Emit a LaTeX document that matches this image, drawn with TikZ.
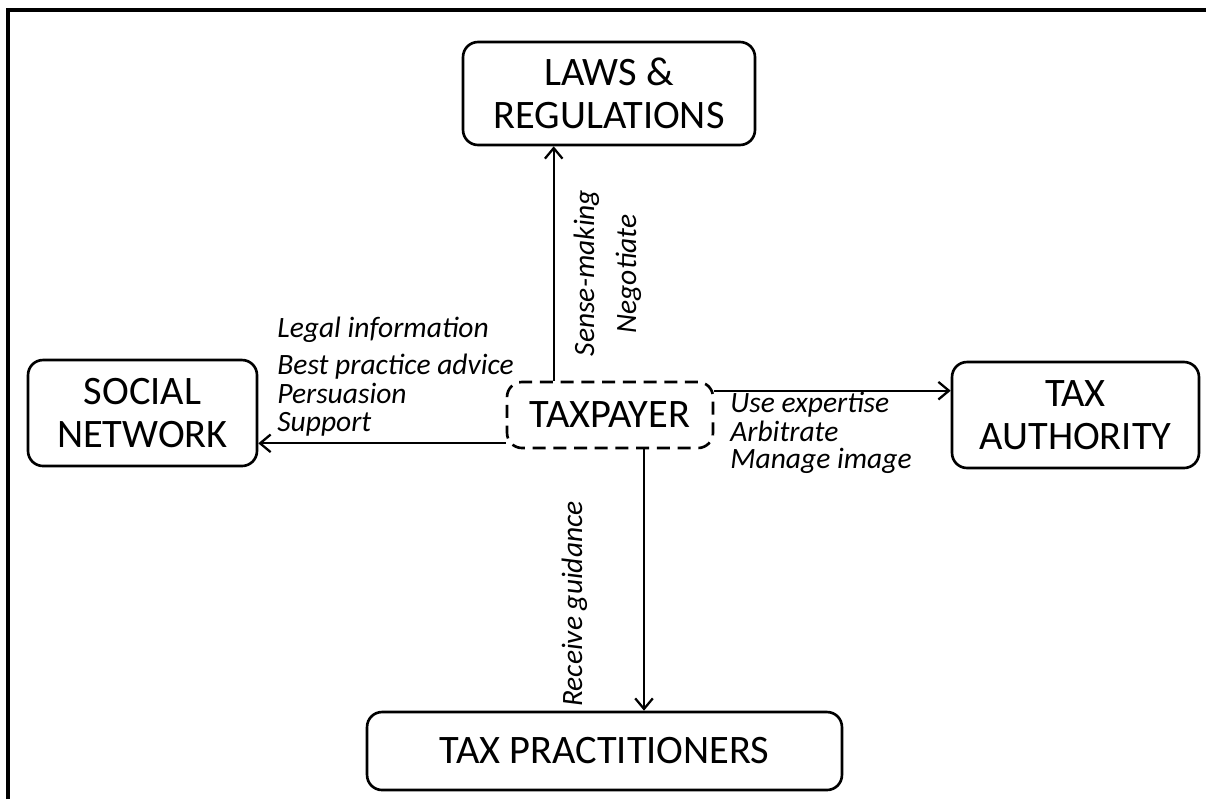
\documentclass[tikz,border=0pt]{standalone}
\usepackage{fontspec}
\setmainfont{Carlito}
\usetikzlibrary{arrows.meta}

\tikzset{
  box/.style={draw, line width=1.5pt, rounded corners=0.3cm, align=center,
    inner sep=0pt, font=\fontsize{23}{24.5}\selectfont},
  dashbox/.style={box, dash pattern=on 7.4pt off 4.4pt},
  lbl/.style={inner sep=0pt, text height=0.7em, text depth=0.22em,
    font=\fontsize{16.8}{19}\selectfont\itshape},
  arr/.style={line width=1.3pt, -{Straight Barb[length=6pt,width=10pt]}}
}

\begin{document}
\begin{tikzpicture}[x=0.02cm, y=-0.02cm]
			\useasboundingbox (0,0) rectangle (1206,799);
			\draw[line width=1.8pt] (8,799) -- (8,10) -- (1206,10);

			\node[box, minimum width=5.84cm, minimum height=2.06cm] (laws) at (609,93.5) {LAWS \&\\REGULATIONS};
			\node[box, minimum width=4.58cm, minimum height=2.12cm] (soc) at (142.5,413) {SOCIAL\\NETWORK};
			\node[box, minimum width=4.94cm, minimum height=2.12cm] (auth) at (1075.5,415) {TAX\\AUTHORITY};
			\node[box, minimum width=9.5cm, minimum height=1.56cm] (prac) at (604.5,751) {TAX PRACTITIONERS};
			\node[dashbox, minimum width=4.12cm, minimum height=1.32cm] (tp) at (610,415) {TAXPAYER};

			\draw[arr] ([shift={(48,0)}]tp.north west) coordinate (up) -- (up |- laws.south);
			\draw[arr] ([shift={(0,-6)}]tp.south west) coordinate (lt) -- (lt -| soc.east);
			\draw[arr] ([shift={(0,10)}]tp.north east) coordinate (rt) -- (rt -| auth.west);
			\draw[arr] ([shift={(34,0)}]tp.south) coordinate (dn) -- (dn |- prac.north);

			% up
			\node[lbl, rotate=90] (sense) at (590,273) {Sense-making};
			\node[lbl, rotate=90] (nego) at (632,274) {Negotiate};
			% left
			\node[lbl, anchor=west] (legal) at (277,333) {Legal information};
			\node[lbl, anchor=west] (best) at (277,370) {Best practice advice};
			\node[lbl, anchor=west] (pers) at (277,399) {Persuasion};
			\node[lbl, anchor=west] (supp) at (277,427) {Support};
			% right
			\node[lbl, anchor=west] (expert) at (730,408) {Use expertise};
			\node[lbl, anchor=west] (arbit) at (730,437) {Arbitrate};
			\node[lbl, anchor=west] (image) at (730,464) {Manage image};
			% down
			\node[lbl, rotate=90] (guide) at (578,604) {Receive guidance};
\end{tikzpicture}
\end{document}
